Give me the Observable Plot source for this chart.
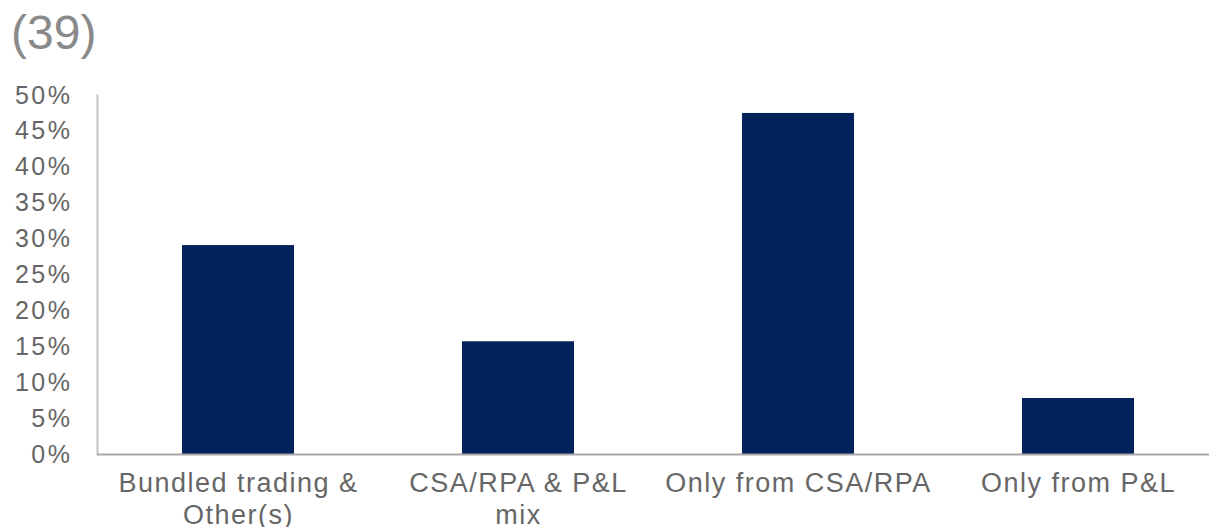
<!DOCTYPE html>
<html>
<head>
<meta charset="utf-8">
<script src="https://cdn.jsdelivr.net/npm/d3@7"></script>
<script src="https://cdn.jsdelivr.net/npm/@observablehq/plot@0.6"></script>
<style>
  body { margin: 0; background: #fff; font-family: "Liberation Sans", Arial, sans-serif; }
  #title { height: 75px; box-sizing: border-box; padding: 9px 0 0 11px; font-size: 48px; line-height: 48px; color: #8a8a8a; }
  #chart svg { display: block; }
  #chart .yax text { letter-spacing: 2.5px; }
  #chart .xlab text { letter-spacing: 1.5px; }
</style>
</head>
<body>
<div id="title">(39)</div>
<div id="chart"></div>
<script>
const categories = ["Bundled trading & Other(s)", "CSA/RPA & P&L mix", "Only from CSA/RPA", "Only from P&L"];
const tickLabels = ["Bundled trading &\nOther(s)", "CSA/RPA & P&L\nmix", "Only from CSA/RPA", "Only from P&L"];
const values = [0.291, 0.157, 0.475, 0.078];
const yTicks = [0, 0.05, 0.10, 0.15, 0.20, 0.25, 0.30, 0.35, 0.40, 0.45, 0.50];

const data = categories.map((c, i) => ({category: c, label: tickLabels[i], value: values[i]}));

const chart = Plot.plot({
  width: 1209,
  height: 452,
  marginLeft: 97,
  marginRight: 0,
  marginTop: 20,
  marginBottom: 73,
  style: {fontFamily: "'Liberation Sans', Arial, sans-serif", background: "#fff"},
  x: {type: "band", domain: categories, range: [97, 1219], paddingInner: 0.6, paddingOuter: 0.3, axis: null},
  y: {domain: [0, 0.5]},
  marks: [
    Plot.barY(data, {x: "category", y: "value", fill: "#03215a"}),
    Plot.axisY({ticks: yTicks, tickFormat: d3.format(".0%"), tickSize: 0, tickPadding: 25, fontSize: 25, fill: "#666", label: null, className: "yax"}),
    Plot.frame({anchor: "left", stroke: "#c4c4c4", strokeWidth: 2}),
    Plot.ruleY([0], {stroke: "#a8a8a8", strokeWidth: 2}),
    Plot.text(data, {x: "category", y: 0, text: "label", dy: 15, lineAnchor: "top", lineHeight: 1.17, fontSize: 27, fill: "#666", className: "xlab"})
  ]
});
document.getElementById("chart").appendChild(chart);
</script>
</body>
</html>
